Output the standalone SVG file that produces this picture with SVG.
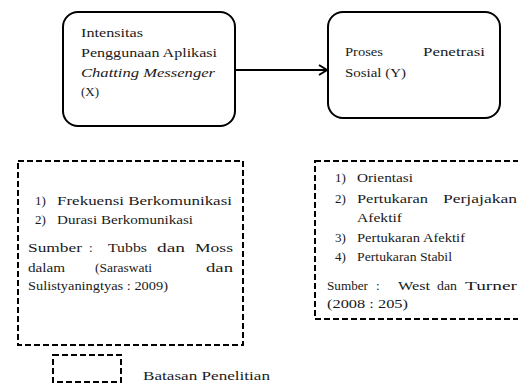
<svg xmlns="http://www.w3.org/2000/svg" width="518" height="387" viewBox="0 0 518 387">
<style>
.node{fill:#fff;stroke:#000;stroke-width:2}
.dash{fill:none;stroke:#000;stroke-width:2;stroke-dasharray:6 3}
.conn{stroke:#000;stroke-width:2;fill:none}
</style>
<defs>
<marker id="ah" markerUnits="userSpaceOnUse" markerWidth="12" markerHeight="12" refX="10" refY="6" orient="auto">
<path d="M2,1 L10,6 L2,11" fill="none" stroke="#000" stroke-width="2"/>
</marker>
</defs>
<rect width="518" height="387" fill="#fff"/>
<g font-family="Liberation Serif, serif" font-size="13" fill="#1a1a1a">
<g id="connectors">
<line class="conn" x1="235" y1="70" x2="327" y2="70" marker-end="url(#ah)"/>
</g>
<g id="nodeX">
<rect class="node" x="63" y="12" width="172" height="114" rx="15"/>
<text x="81" y="37" textLength="62" lengthAdjust="spacingAndGlyphs">Intensitas</text>
<text x="81" y="57" textLength="136" lengthAdjust="spacingAndGlyphs">Penggunaan Aplikasi</text>
<text x="81" y="77" font-style="italic" textLength="134" lengthAdjust="spacingAndGlyphs">Chatting  Messenger</text>
<text x="81" y="96" textLength="18" lengthAdjust="spacingAndGlyphs">(X)</text>
</g>
<g id="nodeY">
<rect class="node" x="328" y="12" width="172" height="106" rx="15"/>
<text x="345" y="56" textLength="38" lengthAdjust="spacingAndGlyphs">Proses</text>
<text x="423" y="56" textLength="62" lengthAdjust="spacingAndGlyphs">Penetrasi</text>
<text x="345" y="77" textLength="61" lengthAdjust="spacingAndGlyphs">Sosial (Y)</text>
</g>
<g id="indicatorX">
<rect class="dash" x="18" y="161" width="225" height="184"/>
<text x="35" y="205">1)</text>
<text x="57" y="205" textLength="175" lengthAdjust="spacingAndGlyphs">Frekuensi Berkomunikasi</text>
<text x="35" y="224">2)</text>
<text x="57" y="224" textLength="136" lengthAdjust="spacingAndGlyphs">Durasi Berkomunikasi</text>
<text x="28" y="252" textLength="54" lengthAdjust="spacingAndGlyphs">Sumber</text>
<text x="89" y="252">:</text>
<text x="108" y="252" textLength="39" lengthAdjust="spacingAndGlyphs">Tubbs</text>
<text x="157" y="252" textLength="28" lengthAdjust="spacingAndGlyphs">dan</text>
<text x="195" y="252" textLength="38" lengthAdjust="spacingAndGlyphs">Moss</text>
<text x="28" y="272" textLength="37" lengthAdjust="spacingAndGlyphs">dalam</text>
<text x="95" y="272" textLength="57" lengthAdjust="spacingAndGlyphs">(Saraswati</text>
<text x="206" y="272" textLength="27" lengthAdjust="spacingAndGlyphs">dan</text>
<text x="28" y="290" textLength="140" lengthAdjust="spacingAndGlyphs">Sulistyaningtyas : 2009)</text>
</g>
<g id="indicatorY">
<rect class="dash" x="315" y="161" width="212" height="158"/>
<text x="335" y="182">1)</text>
<text x="357" y="182" textLength="56" lengthAdjust="spacingAndGlyphs">Orientasi</text>
<text x="335" y="203">2)</text>
<text x="357" y="203" textLength="71" lengthAdjust="spacingAndGlyphs">Pertukaran</text>
<text x="443" y="203" textLength="74" lengthAdjust="spacingAndGlyphs">Perjajakan</text>
<text x="357" y="222" textLength="45" lengthAdjust="spacingAndGlyphs">Afektif</text>
<text x="335" y="242">3)</text>
<text x="357" y="242" textLength="108" lengthAdjust="spacingAndGlyphs">Pertukaran Afektif</text>
<text x="335" y="261">4)</text>
<text x="357" y="261" textLength="95" lengthAdjust="spacingAndGlyphs">Pertukaran Stabil</text>
<text x="327" y="290" textLength="41" lengthAdjust="spacingAndGlyphs">Sumber</text>
<text x="376" y="290">:</text>
<text x="398" y="290" textLength="32" lengthAdjust="spacingAndGlyphs">West</text>
<text x="437" y="290" textLength="20" lengthAdjust="spacingAndGlyphs">dan</text>
<text x="465" y="290" textLength="52" lengthAdjust="spacingAndGlyphs">Turner</text>
<text x="327" y="308" textLength="81" lengthAdjust="spacingAndGlyphs">(2008 : 205)</text>
</g>
<g id="legend">
<rect class="dash" x="53" y="355" width="68" height="27"/>
<text x="143" y="380" textLength="127" lengthAdjust="spacingAndGlyphs">Batasan Penelitian</text>
</g>
</g>
</svg>
